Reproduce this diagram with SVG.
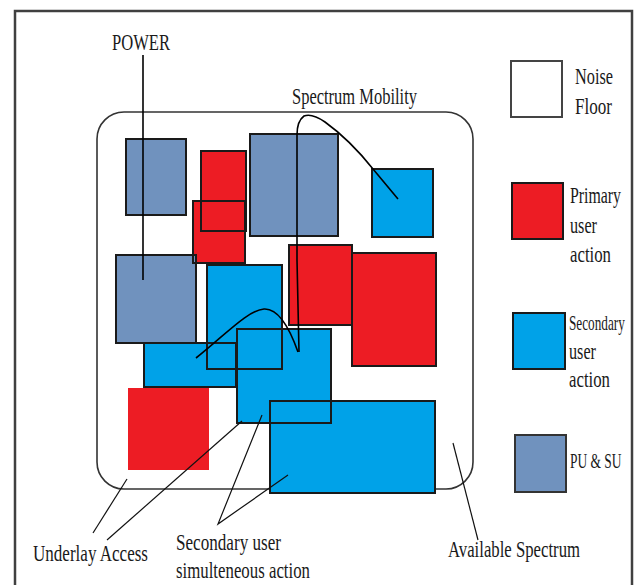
<svg xmlns="http://www.w3.org/2000/svg" xmlns:xlink="http://www.w3.org/1999/xlink" width="638" height="585" viewBox="0 0 638 585">
  <style>
    .t { font-family: "Liberation Serif", "Times New Roman", serif; font-size: 24px; fill: #1a1a1a; }
    .s { font-size: 21px; }
    .red { fill: #ED1C24; }
    .blue { fill: #00A2E8; }
    .gray { fill: #7092BE; }
    .ol { fill: none; stroke: #1a1a1a; stroke-width: 2; }
    .curve { fill: none; stroke: #000; stroke-width: 1.6; }
    .lead { fill: none; stroke: #111; stroke-width: 1.2; }
  </style>
  <rect x="0" y="0" width="638" height="585" fill="#fff"/>
  <rect id="frame" x="15" y="11" width="617" height="600" fill="none" stroke="#404040" stroke-width="2.5"/>

  <g id="spectrum-area">
    <rect x="97" y="112" width="376" height="377" rx="27" ry="27" fill="none" stroke="#333" stroke-width="1.6"/>
  </g>

  <defs>
    <rect id="r-g1" x="126" y="139" width="60" height="76"/>
    <rect id="r-r1" x="201" y="151" width="45" height="80"/>
    <rect id="r-r2" x="193" y="201" width="52" height="62"/>
    <rect id="r-g2" x="250" y="134" width="88" height="102"/>
    <rect id="r-b1" x="372" y="169" width="61" height="68"/>
    <rect id="r-r3" x="289" y="245" width="63" height="80"/>
    <rect id="r-r4" x="352" y="253" width="84" height="113"/>
    <rect id="r-g3" x="116" y="255" width="80" height="88"/>
    <rect id="r-b2" x="207" y="265" width="75" height="104"/>
    <rect id="r-b3" x="144" y="343" width="92" height="44"/>
    <rect id="r-b4" x="237" y="329" width="94" height="94"/>
    <rect id="r-b5" x="270" y="401" width="165" height="92"/>
  </defs>

  <g id="nodes">
    <g id="pu-su-1" class="gray"><use xlink:href="#r-g1"/></g>
    <g id="primary-1" class="red"><use xlink:href="#r-r1"/></g>
    <g id="primary-2" class="red"><use xlink:href="#r-r2"/></g>
    <g id="pu-su-2" class="gray"><use xlink:href="#r-g2"/></g>
    <g id="secondary-1" class="blue"><use xlink:href="#r-b1"/></g>
    <g id="primary-3" class="red"><use xlink:href="#r-r3"/></g>
    <g id="primary-4" class="red"><use xlink:href="#r-r4"/></g>
    <g id="pu-su-3" class="gray"><use xlink:href="#r-g3"/></g>
    <g id="secondary-2" class="blue"><use xlink:href="#r-b2"/></g>
    <g id="secondary-3" class="blue"><use xlink:href="#r-b3"/></g>
    <g id="secondary-4" class="blue"><use xlink:href="#r-b4"/></g>
    <g id="secondary-5" class="blue"><use xlink:href="#r-b5"/></g>
    <g id="primary-5"><rect x="128" y="388" width="81" height="82" fill="#ED1C24"/></g>
  </g>

  <g id="outlines" class="ol">
    <use xlink:href="#r-g1"/>
    <use xlink:href="#r-r1"/>
    <use xlink:href="#r-r2"/>
    <use xlink:href="#r-g2"/>
    <use xlink:href="#r-b1"/>
    <use xlink:href="#r-r3"/>
    <use xlink:href="#r-r4"/>
    <use xlink:href="#r-g3"/>
    <use xlink:href="#r-b2"/>
    <use xlink:href="#r-b3"/>
    <use xlink:href="#r-b4"/>
    <use xlink:href="#r-b5"/>
  </g>

  <g id="connectors">
    <path class="curve" d="M143,55 L143,280"/>
    <path class="curve" d="M398,199 L373,169 Q350,140 325,122 Q312,113 304,116 Q297,121 297,135 L297,260 L299,352"/>
    <path class="curve" d="M196,358 C225,335 248,310 264,309 C280,308 292,335 298,352"/>
    <path class="lead" d="M127,479 L93,533"/>
    <path class="lead" d="M242,421 L107,540"/>
    <path class="lead" d="M262,415 L218,524 L288,475"/>
    <path class="lead" d="M453,443 L478,540"/>
  </g>

  <g id="legend">
    <g id="legend-noise">
      <rect x="511" y="61" width="51" height="56" fill="#fff" stroke="#444" stroke-width="2"/>
      <text class="t" x="575" y="84" textLength="38" lengthAdjust="spacingAndGlyphs">Noise</text>
      <text class="t" x="575" y="114" textLength="37" lengthAdjust="spacingAndGlyphs">Floor</text>
    </g>
    <g id="legend-primary">
      <rect x="512" y="183" width="51" height="56" fill="#ED1C24" stroke="#1a1a1a" stroke-width="2"/>
      <text class="t" transform="translate(570,203) scale(0.66,1)">Primary</text>
      <text class="t" x="570" y="233" textLength="27" lengthAdjust="spacingAndGlyphs">user</text>
      <text class="t" x="570" y="262" textLength="41" lengthAdjust="spacingAndGlyphs">action</text>
    </g>
    <g id="legend-secondary">
      <rect x="513" y="313" width="52" height="56" fill="#00A2E8" stroke="#1a1a1a" stroke-width="2"/>
      <text class="t s" transform="translate(569,330) scale(0.63,1)">Secondary</text>
      <text class="t" x="569" y="359" textLength="27" lengthAdjust="spacingAndGlyphs">user</text>
      <text class="t" x="569" y="387" textLength="41" lengthAdjust="spacingAndGlyphs">action</text>
    </g>
    <g id="legend-pusu">
      <rect x="515" y="435" width="51" height="57" fill="#7092BE" stroke="#333" stroke-width="2"/>
      <text class="t s" transform="translate(570,468) scale(0.64,1)">PU &amp; SU</text>
    </g>
  </g>

  <g id="labels">
    <text class="t" x="112" y="50" textLength="58" lengthAdjust="spacingAndGlyphs">POWER</text>
    <text class="t" x="292" y="104" textLength="125" lengthAdjust="spacingAndGlyphs">Spectrum Mobility</text>
    <text class="t" x="33" y="561" textLength="115" lengthAdjust="spacingAndGlyphs">Underlay Access</text>
    <text class="t" x="176" y="550" textLength="105" lengthAdjust="spacingAndGlyphs">Secondary user</text>
    <text class="t" x="176" y="578" textLength="134" lengthAdjust="spacingAndGlyphs">simulteneous action</text>
    <text class="t" x="448" y="557" textLength="132" lengthAdjust="spacingAndGlyphs">Available Spectrum</text>
  </g>
</svg>
